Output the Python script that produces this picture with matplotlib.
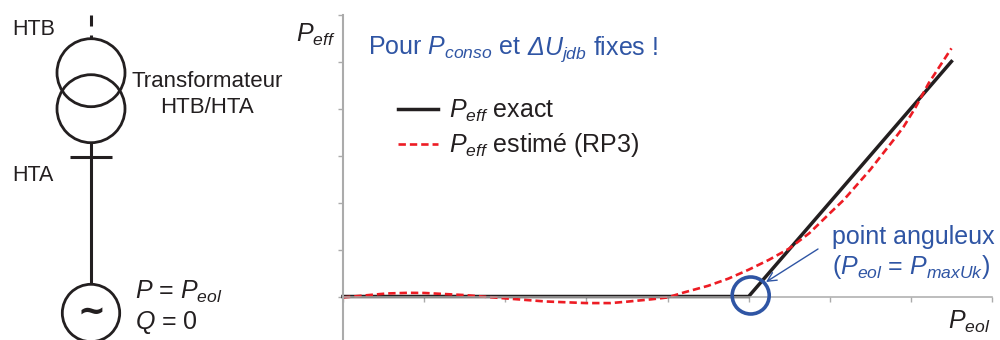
import matplotlib
matplotlib.use('Agg')
import matplotlib.pyplot as plt
from matplotlib.patches import Circle

plt.rcParams['font.family'] = ['Liberation Sans', 'DejaVu Sans']
plt.rcParams['mathtext.fontset'] = 'custom'
plt.rcParams['mathtext.rm'] = 'Liberation Sans'
plt.rcParams['mathtext.it'] = 'Liberation Sans:italic'
plt.rcParams['mathtext.bf'] = 'Liberation Sans:bold'
plt.rcParams['mathtext.default'] = 'regular'

# curves
x_exact = [0, 5, 7.5]
y_exact = [0, 0, 5]
x_est = [0, 0.25, 0.54, 0.8, 1, 1.5, 2, 2.5, 3, 3.3, 3.5, 3.8, 4, 4.2, 4.5, 4.75, 5, 5.25, 5.5,
         5.75, 6, 6.17, 6.5, 6.8, 6.91, 7.05, 7.22, 7.5]
y_est = [-0.02, 0.02, 0.064, 0.078, 0.075, 0.03, -0.04, -0.106, -0.14, -0.14, -0.11, -0.06, -0.02,
         0.085, 0.227, 0.38, 0.57, 0.78, 1.02, 1.35, 1.77, 2.05, 2.7, 3.36, 3.61, 4.0, 4.54, 5.28]
x_ticks = [0, 1, 2, 3, 4, 5, 6, 7, 8]
y_ticks = [0, 1, 2, 3, 4, 5, 6]

dark = '#231f20'
blue = '#2f55a4'
red = '#ed1c24'
gray = '#ababab'
fs_small = 15.5
fs = 18

fig = plt.figure(figsize=(10, 3.4), dpi=100)

# main chart, axes box set in pixels of the 1000x340 picture
ax = fig.add_axes([0.343, 0, 0.649, (340 - 14.5) / 340])
ax.set_xlim(0, 8)
ax.set_ylim(-(340 - 296.5) / 47, 6)
ax.spines['top'].set_visible(False)
ax.spines['right'].set_visible(False)
ax.spines['bottom'].set_position(('data', 0))
ax.spines['left'].set_color(gray)
ax.spines['left'].set_linewidth(1.5)
ax.spines['bottom'].set_color(gray)
ax.spines['bottom'].set_linewidth(1.1)
ax.set_xticks(x_ticks)
ax.set_yticks(y_ticks)
ax.set_xticklabels([])
ax.set_yticklabels([])
ax.tick_params(axis='x', color=gray, width=1, length=3.5, direction='out')
ax.tick_params(axis='y', color=gray, width=1, length=3.5, direction='out')

ax.plot(x_exact, y_exact, color=dark, linewidth=2.5, solid_joinstyle='miter',
        label=r'$\mathit{P}_{\mathit{eff}}$ exact', clip_on=False)
ax.plot(x_est, y_est, color=red, linewidth=1.9, dashes=(2.8, 1.5),
        label=r'$\mathit{P}_{\mathit{eff}}$ estimé (RP3)', clip_on=False)

handles, labels = ax.get_legend_handles_labels()
fig.legend(handles, labels, loc='upper left', bbox_to_anchor=(0.398, 0.713), frameon=False,
           fontsize=fs, handlelength=1.6, handletextpad=0.44, labelspacing=0.3,
           borderpad=0, borderaxespad=0, labelcolor=dark)

# overlay in picture pixels, for the one-line diagram and the notes
ov = fig.add_axes([0, 0, 1, 1], facecolor='none')
ov.set_xlim(0, 1000)
ov.set_ylim(340, 0)
ov.axis('off')

for cy in [72.7, 108.7]:
    ov.add_patch(Circle((91, cy), 34, fill=False, edgecolor=dark, linewidth=2))
ov.add_patch(Circle((91, 313), 28.7, fill=False, edgecolor=dark, linewidth=2, clip_on=False))
ov.plot([91, 91], [15, 26], color=dark, linewidth=2.2, solid_capstyle='butt')
ov.plot([91, 91], [35, 39], color=dark, linewidth=2.2, solid_capstyle='butt')
ov.plot([91, 91], [143, 284], color=dark, linewidth=2.2, solid_capstyle='butt')
ov.plot([70, 112], [157, 157], color=dark, linewidth=2.2, solid_capstyle='butt')
ov.text(91, 312, '~', color=dark, fontsize=24, fontweight='bold', family='DejaVu Sans',
        ha='center', va='center')

ov.add_patch(Circle((750.7, 295.5), 18.5, fill=False, edgecolor=blue, linewidth=2.6))
ov.annotate('', xy=(766, 282), xytext=(818, 249),
            arrowprops=dict(arrowstyle='->', color=blue, linewidth=1, shrinkA=0, shrinkB=0,
                            mutation_scale=16))


def note(x, y, s, color=dark, ha='left', size=fs, style='normal'):
    ov.text(x, y, s, color=color, fontsize=size, ha=ha, va='baseline', style=style)


note(12, 35, 'HTB', size=fs_small)
note(12, 181, 'HTA', size=fs_small)
note(207, 87, 'Transformateur', ha='center', size=16)
note(207, 113, 'HTB/HTA', ha='center', size=16)
note(135, 299, r'$\mathit{P}$ = $\mathit{P}_{\mathit{eol}}$')
note(135, 329, r'$\mathit{Q}$ = 0')
note(296, 42, r'$\mathit{P}_{\mathit{eff}}$')
note(948, 329, r'$\mathit{P}_{\mathit{eol}}$')
# mathtext keeps capital Greek upright, so the delta is its own italic text
note(368, 55, r'Pour $\mathit{P}_{\mathit{conso}}$ et', color=blue)
note(527, 55, 'Δ', color=blue, style='italic')
note(544, 55, r'$\mathit{U}_{\mathit{jdb}}$ fixes !', color=blue)
note(832, 244, 'point anguleux', color=blue)
note(832, 274, r'($\mathit{P}_{\mathit{eol}}$ = $\mathit{P}_{\mathit{maxUk}}$)', color=blue)

plt.savefig('out.png', dpi=100)
